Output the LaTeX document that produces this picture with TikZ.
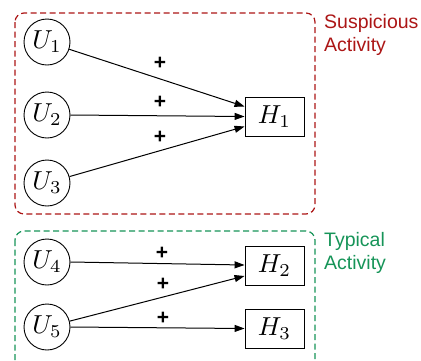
\documentclass[tikz,border=0pt]{standalone}
\usepackage{graphicx}
\usepackage{fontspec}
\newfontfamily\lsans{Liberation Sans}
\usetikzlibrary{arrows.meta,calc}
\definecolor{susred}{RGB}{172,22,22}
\definecolor{typgreen}{RGB}{22,148,88}
\newcommand{\varlabel}[1]{\scalebox{2.6}{$#1$}}
\begin{document}
\begin{tikzpicture}[x=1pt,y=-1pt,
  unode/.style={draw,circle,minimum size=46pt,inner sep=0pt,line width=0.9pt},
  hnode/.style={draw,rectangle,minimum width=59pt,minimum height=39pt,inner sep=0pt,line width=0.9pt},
  conn/.style={line width=1pt,-{Triangle[length=10pt,width=7pt]}},
  plus/.style={font=\lsans\bfseries\fontsize{21}{21}\selectfont,inner sep=0pt},
  group/.style={dashed,dash pattern=on 6pt off 3.5pt,line width=1.2pt,rounded corners=9pt},
  grouplabel/.style={anchor=north west,align=left,inner sep=0pt,font=\lsans\fontsize{19.5}{23}\selectfont}]
\useasboundingbox (0,0) rectangle (421,360);
\draw[group,susred] (15,13) rectangle (315,214);
\draw[group,typgreen] (15,231) rectangle (315,372);
\node[grouplabel,text=susred] (lab1) at (324,14) {Suspicious\\Activity};
\node[grouplabel,text=typgreen] (lab2) at (324,232) {Typical\\Activity};
\node[unode] (U1) at (47,42) {\varlabel{U_1}};
\node[unode] (U2) at (47,115) {\varlabel{U_2}};
\node[unode] (U3) at (47,183) {\varlabel{U_3}};
\node[unode] (U4) at (47,262) {\varlabel{U_4}};
\node[unode] (U5) at (47,327) {\varlabel{U_5}};
\node[hnode] (H1) at (274.5,116.5) {\varlabel{H_1}};
\node[hnode] (H2) at (274.5,265.5) {\varlabel{H_2}};
\node[hnode] (H3) at (274.5,328.5) {\varlabel{H_3}};
\coordinate (h1a) at ($(H1.west)+(0,-10)$);
\coordinate (h1c) at ($(H1.west)+(0,10)$);
\coordinate (h2a) at ($(H2.west)+(0,-0.5)$);
\coordinate (h2b) at ($(H2.west)+(0,10.5)$);
\draw[conn] (U1) -- (h1a);
\draw[conn] (U2.east) -- (H1.west);
\draw[conn] (U3) -- (h1c);
\draw[conn] (U4.east) -- (h2a);
\draw[conn] (U5) -- (h2b);
\draw[conn] (U5.east) -- (H3.west);
\node[plus] (p1) at (160,63) {+};
\node[plus] (p2) at (160,102) {+};
\node[plus] (p3) at (160,137) {+};
\node[plus] (p4) at (162,253) {+};
\node[plus] (p5) at (163,284) {+};
\node[plus] (p6) at (163,318) {+};
\end{tikzpicture}
\end{document}
